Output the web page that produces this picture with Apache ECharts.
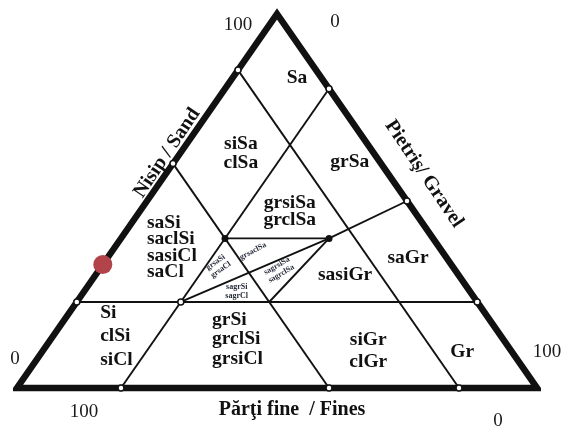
<!DOCTYPE html>
<html>
<head>
<meta charset="utf-8">
<script src="https://cdn.jsdelivr.net/npm/echarts@6/dist/echarts.min.js"></script>
<style>
  html, body { margin: 0; padding: 0; background: #fff; }
  #chart { width: 562px; height: 430px; }
</style>
</head>
<body>
<div id="chart"></div>
<script>
// ternary points are [sand %, gravel %], fines = 100 - sand - gravel
const outline = [[50, 0], [100, 0], [0, 100], [0, 0], [50, 0]];
const boundaries = [
  [[85, 0], [0, 85]],            // fines 15
  [[60, 0], [0, 60]],            // fines 40
  [[80, 20], [0, 20]],           // gravel 20
  [[23, 0], [23, 77]],           // sand ~20
  [[40, 20], [40, 40]],
  [[50, 50], [40, 40], [23, 20]],
  [[40, 40], [23, 37]]
];
const edgePoints = [[85, 0], [60, 0], [23, 0], [80, 20], [50, 50], [23, 77], [0, 20], [0, 60], [0, 85], [23, 20]];
const nodePoints = [[40, 20], [40, 40]];
const samplePoints = [[33, 0]];

const zoneNames = ['Sa', 'siSa\nclSa', 'grSa', 'grsiSa\ngrclSa', 'saSi\nsaclSi\nsasiCl\nsaCl',
  'Si\nclSi\nsiCl', 'grSi\ngrclSi\ngrsiCl', 'siGr\nclGr', 'Gr', 'saGr', 'sasiGr'];
const zonePos = [[82.9, 12.4], [62.7, 11.7], [60.4, 33.8], [47.1, 28.9], [37.6, 6.2],
  [13.8, 9.1], [13.0, 31.0], [9.9, 62.6], [9.6, 80.8], [34.8, 57.8], [30.2, 48.0]];
const smallNames = ['grsaSi\ngrsaCl', 'grsaclSa', 'sagrsiSa\nsagrclSa', 'sagrSi\nsagrCl'];
const smallPos = [[32.6, 22.4], [36.6, 27.1], [31.6, 34.6], [25.7, 29.4]];

const tickHigh = '100';
const tickLow = '0';
const sandName = 'Nisip / Sand';
const gravelName = 'Pietriş/ Gravel';
const finesName = 'Părţi fine  / Fines';

// layout / style (not data)
const leftAligned = [4, 5, 6];
const zoneLineHeight = [19, 19, 19, 17, 16.5, 23.5, 19.5, 22, 19, 19, 19];
const smallRotate = [35, 28, 30, 0];
const ink = '#111';
const serif = 'Liberation Serif';

const toXY = p => [p[1] + p[0] / 2, p[0]];

const chart = echarts.init(document.getElementById('chart'));

const series = [];
boundaries.forEach(seg => series.push({
  type: 'line', data: seg.map(toXY), symbol: 'none', silent: true, clip: false, z: 2,
  lineStyle: { color: ink, width: 1.9 }
}));
series.push({
  type: 'line', data: outline.map(toXY), symbol: 'none', silent: true, clip: false, z: 3,
  lineStyle: { color: ink, width: 6.5, join: 'miter', miterLimit: 10 }
});
series.push({
  type: 'scatter', data: edgePoints.map(toXY), symbol: 'circle', symbolSize: 6, silent: true, clip: false, z: 4,
  itemStyle: { color: '#fff', borderColor: ink, borderWidth: 1.5, opacity: 1 }
});
series.push({
  type: 'scatter', data: nodePoints.map(toXY), symbol: 'circle', symbolSize: 7, silent: true, z: 4,
  itemStyle: { color: ink, opacity: 1 }
});
series.push({
  type: 'scatter', data: samplePoints.map(toXY), symbol: 'circle', symbolSize: 19, silent: true, clip: false, z: 5,
  itemStyle: { color: '#b3434a', opacity: 1 }
});
series.push({
  type: 'scatter', symbolSize: 1, silent: true, z: 6,
  itemStyle: { color: 'rgba(0,0,0,0)', opacity: 1 },
  data: zoneNames.map((n, i) => ({
    name: n, value: toXY(zonePos[i]),
    label: {
      align: leftAligned.includes(i) ? 'left' : 'center',
      lineHeight: zoneLineHeight[i]
    }
  })),
  label: {
    show: true, position: 'inside', formatter: '{b}', color: ink, opacity: 1,
    fontFamily: serif, fontWeight: 'bold', fontSize: 19.5
  }
});
series.push({
  type: 'scatter', symbolSize: 1, silent: true, z: 6,
  itemStyle: { color: 'rgba(0,0,0,0)', opacity: 1 },
  data: smallNames.map((n, i) => ({
    name: n, value: toXY(smallPos[i]), label: { rotate: smallRotate[i] }
  })),
  label: {
    show: true, position: 'inside', formatter: '{b}', color: '#262b38', opacity: 1,
    fontFamily: serif, fontWeight: 'bold', fontSize: 8, lineHeight: 9
  }
});

const txt = (text, x, y, opt) => ({
  type: 'text', x: x, y: y, rotation: (opt && opt.rot) || 0,
  style: Object.assign({
    text: text, fill: '#1a1a1a', font: '19px "Liberation Serif"',
    align: 'center', verticalAlign: 'middle'
  }, opt && opt.style)
});
const bold = { font: 'bold 20px "Liberation Serif"', fill: ink };

chart.setOption({
  animation: false,
  backgroundColor: '#fff',
  grid: { left: 17, right: 25, top: 14, bottom: 42 },
  xAxis: { type: 'value', min: 0, max: 100, show: false },
  yAxis: { type: 'value', min: 0, max: 100, show: false },
  series: series,
  graphic: [
    txt(tickHigh, 238, 25),
    txt(tickLow, 335, 22),
    txt(tickLow, 15, 359),
    txt(tickHigh, 84, 412),
    txt(tickHigh, 547, 352),
    txt(tickLow, 498, 421),
    txt(sandName, 167, 153, { rot: 56 * Math.PI / 180, style: bold }),
    txt(gravelName, 424, 174, { rot: -56 * Math.PI / 180, style: bold }),
    txt(finesName, 292, 410, { style: bold })
  ]
});
</script>
</body>
</html>
